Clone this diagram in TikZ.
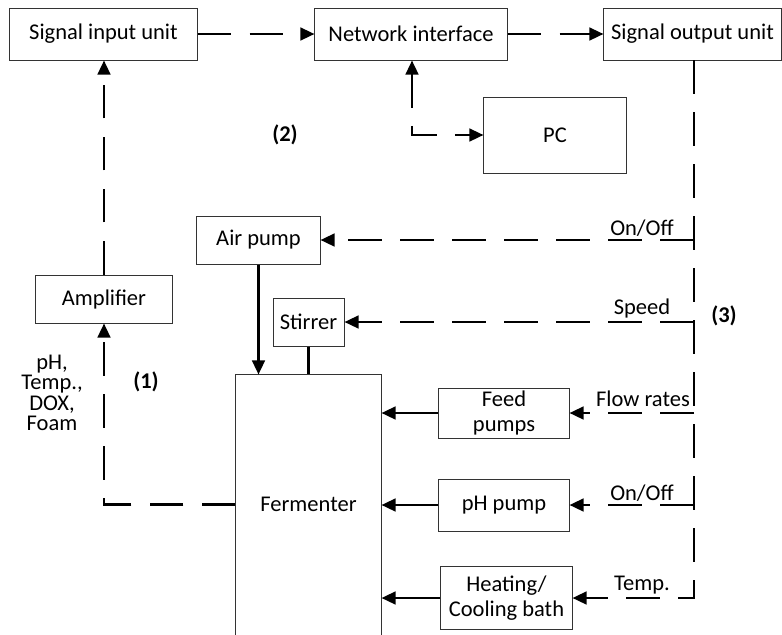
\documentclass[tikz,border=0pt]{standalone}
\usepackage{fontspec}
\setmainfont{Carlito}
\usetikzlibrary{arrows.meta}

\tikzset{
  unit/.style={draw=black!80, line width=0.7pt, inner sep=1pt, align=center, font=\fontsize{16}{17.5}\selectfont},
  sig/.style={line width=1.8pt, dash pattern=on 24pt off 13pt},
  link/.style={line width=1.8pt},
  tag/.style={inner sep=0pt, align=center, font=\fontsize{16}{14.5}\selectfont}
}

\begin{document}
\begin{tikzpicture}[x=0.025cm, y=-0.025cm, >={Triangle[length=10pt,width=9pt]}]
\useasboundingbox (0,0) rectangle (782,634);

% top row
\node[unit, minimum width=4.675cm, minimum height=1.3cm] (sin) at (103.5,34) {Signal input unit};
\node[unit, minimum width=4.8cm, minimum height=1.3cm] (net) at (411,34) {Network interface};
\node[unit, minimum width=4.425cm, minimum height=1.3cm] (sout) at (692.5,34) {Signal output unit};
\node[unit, minimum width=3.55cm, minimum height=1.9cm] (pc) at (555,135) {PC};

% plant side
\node[unit, minimum width=3.4cm, minimum height=1.2cm] (amp) at (104,299) {Amplifier};
\node[unit, minimum width=3.075cm, minimum height=1.2cm] (air) at (258.5,240) {Air pump};
\node[unit, minimum width=1.775cm, minimum height=1.2cm] (stir) at (308.5,322) {Stirrer};
\node[unit, minimum width=3.25cm, minimum height=1.25cm] (feed) at (504,413) {Feed\\pumps};
\node[unit, minimum width=3.25cm, minimum height=1.3cm] (ph) at (504,505) {pH pump};
\node[unit, minimum width=3.275cm, minimum height=1.575cm] (heat) at (506.5,598) {Heating/\\Cooling bath};
\node[unit, draw=none, minimum width=3.625cm, minimum height=6.475cm] (ferm) at (308.5,504.5) {Fermenter};
\draw[black!80, line width=0.7pt] (ferm.south west) -- (ferm.north west) -- (ferm.north east) -- (ferm.south east);

% data path
\draw[sig,->] (sin) -- (net);
\draw[sig,->] (net) -- (sout);
\coordinate (nb) at (412,135);
\draw[sig,<->] (nb |- net.south) -- (nb) -- (pc.west);
\draw[sig,->] (amp.north) -- (amp.north |- sin.south);
\draw[sig,->] (ferm.west) -| (amp.south);

% control bus
\coordinate (bus) at (694,60);
\draw[sig,->] (bus) |- (heat.east);
\draw[sig,->] (bus |- air.east) -- (air.east);
\draw[sig,->] (bus |- stir.east) -- (stir.east);
\draw[sig,->] (bus |- feed.east) -- (feed.east);
\draw[sig,->] (bus |- ph.east) -- (ph.east);

\draw[link,->] (air.south) -- (air.south |- ferm.north);
\draw[link] (stir.south) -- (stir.south |- ferm.north);
\draw[link,->] (feed.west) -- (feed.west -| ferm.east);
\draw[link,->] (ph.west) -- (ph.west -| ferm.east);
\draw[link,->] (heat.west) -- (heat.west -| ferm.east);

% labels
\node[tag] (l1) at (642,228) {On/Off};
\node[tag] (l2) at (642,308) {Speed};
\node[tag] (l3) at (643,399) {Flow rates};
\node[tag] (l4) at (642,493) {On/Off};
\node[tag] (l5) at (642,585) {Temp.};
\node[tag] (meas) at (52,393) {pH,\\Temp.,\\DOX,\\Foam};
\node[tag, font=\fontsize{16}{17}\selectfont\bfseries] (n1) at (146,382) {(1)};
\node[tag, font=\fontsize{16}{17}\selectfont\bfseries] (n2) at (285,135) {(2)};
\node[tag, font=\fontsize{16}{17}\selectfont\bfseries] (n3) at (724,316) {(3)};
\end{tikzpicture}
\end{document}
